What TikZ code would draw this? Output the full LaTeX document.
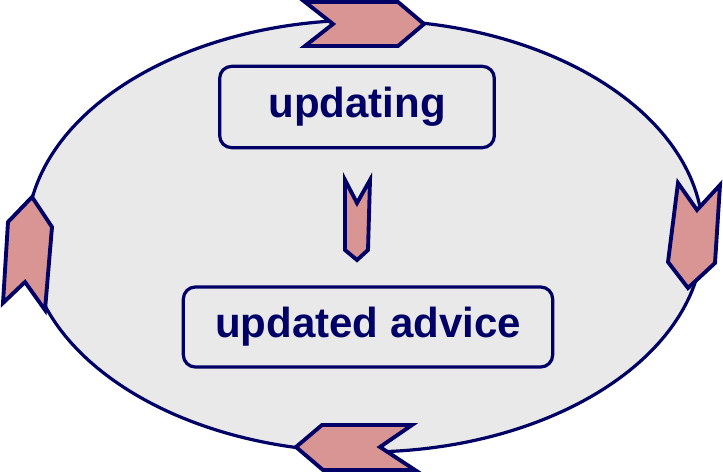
\documentclass[tikz,border=0pt]{standalone}
\usepackage{fontspec}
\setmainfont{Liberation Sans}
\usepackage{xcolor}
\usetikzlibrary{shapes.geometric}
\definecolor{navy}{RGB}{0,0,102}
\definecolor{chevpink}{RGB}{217,149,148}
\definecolor{stone}{RGB}{233,233,233}
\tikzset{
  stagebox/.style={draw=navy,line width=2.4pt,rounded corners=9pt,fill=stone,
    text=navy,font=\bfseries\fontsize{31.5}{36}\selectfont,inner sep=0pt},
  chev/.style={draw=navy,fill=chevpink,line width=2.9pt,line join=miter}
}

\begin{document}
\begin{tikzpicture}[x=0.75pt,y=-0.75pt]
\useasboundingbox (0,0) rectangle (723,474);
\node[draw=navy,fill=stone,line width=2.4pt,ellipse,minimum width=507pt,minimum height=324pt,inner sep=0pt] (cycle) at (365,236) {};
%
\node[stagebox,minimum width=206pt,minimum height=61pt] (upd) at (357,107) {updating};
\node[stagebox,minimum width=277pt,minimum height=60pt] (adv) at (368,327) {updated advice};
%
\draw[chev] (345,180) -- (357,203) -- (370,180) -- (368,250) -- (357,260) -- (345,250) -- cycle;
%
\draw[chev] (305,2) -- (398,2) -- (424,24) -- (398,46) -- (305,46) -- (333,24) -- cycle;
\draw[chev] (678,183) -- (697,210) -- (720,185) -- (715,263) -- (688,288) -- (668,262) -- cycle;
\draw[chev] (296,447) -- (322,425) -- (412,425) -- (380,447) -- (415,470) -- (323,470) -- cycle;
\draw[chev] (32,197) -- (52,227) -- (45,310) -- (25,282) -- (3,303) -- (8,222) -- cycle;
\end{tikzpicture}
\end{document}
